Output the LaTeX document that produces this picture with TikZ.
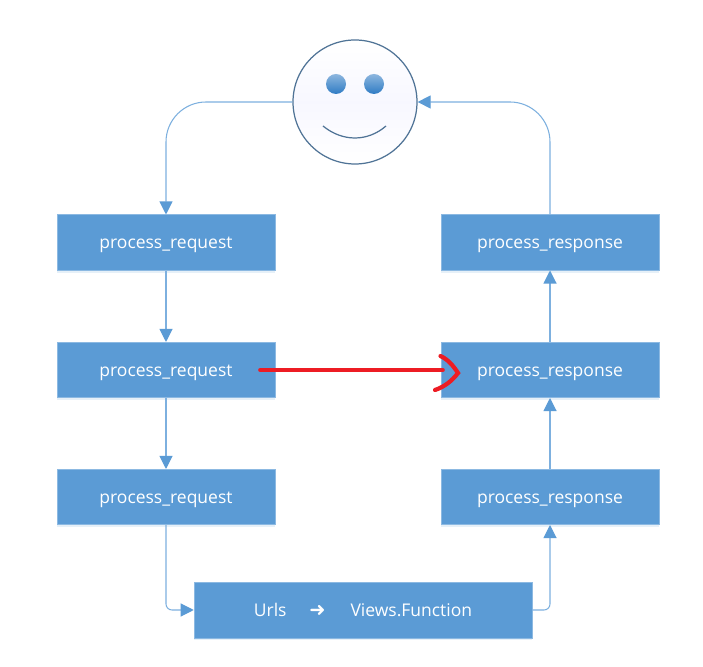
\documentclass[tikz,border=0pt]{standalone}
\usepackage{fontspec}
\setmainfont{Open Sans}
\newfontfamily\symfont{DejaVu Sans}
\usetikzlibrary{arrows.meta,shadows}
\definecolor{boxblue}{HTML}{5B9BD5}
\definecolor{linkblue}{HTML}{7DB0DF}
\definecolor{faceedge}{HTML}{4F7396}
\definecolor{eyeblue}{HTML}{2F7BC4}
\definecolor{redline}{HTML}{ED1C24}
\tikzset{
  mwbox/.style={fill=boxblue,draw=boxblue!70!white,line width=0.3pt,text=white,minimum width=4.36cm,minimum height=1.11cm,inner sep=0pt,text height=0.30cm,text depth=0.04cm,font=\fontsize{9.95}{12}\selectfont,drop shadow={shadow xshift=0pt,shadow yshift=-0.05cm,fill=boxblue,opacity=0.15}},
  link/.style={linkblue,line width=0.6pt,rounded corners=0.8cm,-{Triangle[length=0.26cm,width=0.26cm,color=boxblue,fill=boxblue]}},
  shortlink/.style={link,rounded corners=0.12cm},
  eye/.style={top color=eyeblue!55!white,middle color=eyeblue,bottom color=eyeblue,draw=none},
  redstroke/.style={redline,line width=2.4pt,line cap=round}
}
\begin{document}
\begin{tikzpicture}
\useasboundingbox (0,0) rectangle (14.06,13.34);
\fill[white] (0,0) rectangle (14.06,13.34);
\coordinate (F) at (7.10,11.30);
% smiley
\node[circle,minimum size=2.48cm,inner sep=0pt,draw=faceedge,line width=0.7pt,top color=white,bottom color=white,middle color=blue!3] (face) at (F) {};
\shade[eye] (7.10-0.38,11.30+0.36) circle [radius=0.2];
\shade[eye] (7.10+0.38,11.30+0.36) circle [radius=0.2];
\draw[faceedge,line width=0.7pt] (7.10-0.64,11.30-0.48) .. controls (7.10-0.25,11.30-0.80) and (7.10+0.25,11.30-0.80) .. (7.10+0.62,11.30-0.48);
% boxes
\node[mwbox] (req1) at (3.32,8.49) {process\_request};
\node[mwbox] (req2) at (3.32,5.94) {process\_request};
\node[mwbox] (req3) at (3.32,3.40) {process\_request};
\node[mwbox] (resp1) at (11.0,8.49) {process\_response};
\node[mwbox] (resp2) at (11.0,5.94) {process\_response};
\node[mwbox] (resp3) at (11.0,3.40) {process\_response};
\node[mwbox,minimum width=6.76cm,minimum height=1.12cm] (urls) at (7.26,1.14) {Urls\hspace{0.44cm}\makebox[0.36cm]{\symfont\fontsize{11}{12}\selectfont\char"279C}\hspace{0.48cm}Views.Function};
% links
\draw[link] (face.west) -| (req1.north);
\draw[link] (req1) -- (req2);
\draw[link] (req2) -- (req3);
\draw[shortlink] (req3.south) |- (urls.west);
\draw[shortlink] (urls.east) -| (resp3.south);
\draw[link] (resp3) -- (resp2);
\draw[link] (resp2) -- (resp1);
\draw[link] (resp1.north) |- (face.east);
% red arrow
\coordinate (R1) at ([xshift=-0.3cm]req2.east);
\coordinate (R2) at ([xshift=0.04cm]resp2.west);
\draw[redstroke] (R1) -- (R2);
\draw[redstroke] (8.81,6.22) .. controls (8.98,6.14) and (9.08,6.0) .. (9.16,5.88) .. controls (9.04,5.72) and (8.88,5.60) .. (8.70,5.54);
\end{tikzpicture}
\end{document}
